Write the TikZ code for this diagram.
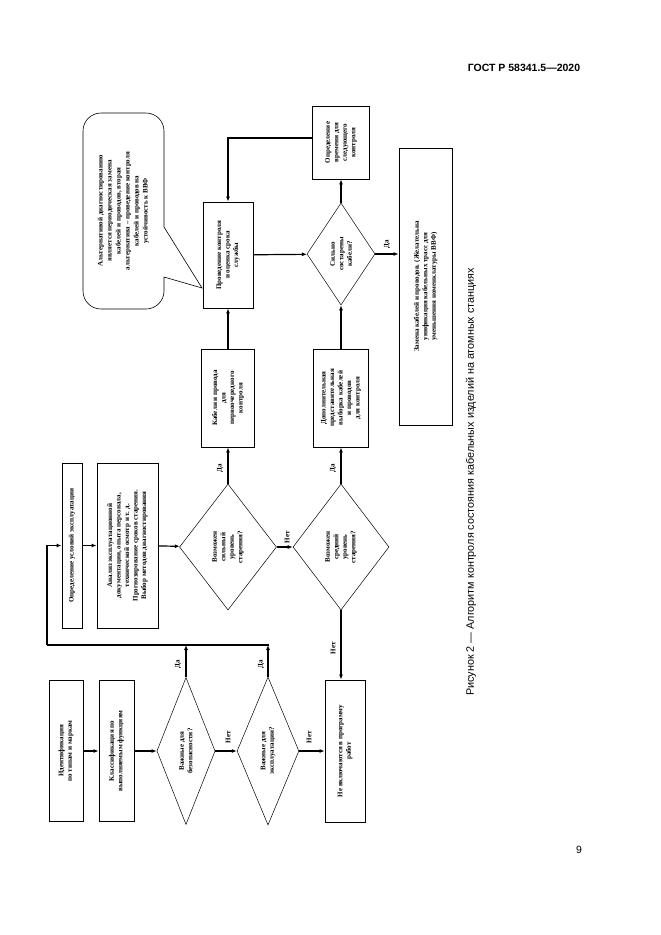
\documentclass[tikz,border=0pt]{standalone}
\usepackage{fontspec}
\setmainfont{Liberation Serif}
\newfontfamily\capfont{Liberation Sans}
\usetikzlibrary{shapes.geometric,arrows.meta}
\begin{document}
\begin{tikzpicture}[x=1pt,y=-1pt,
  box/.style={draw,line width=0.8pt,rotate=90,align=center,inner sep=1pt,font=\fontsize{7}{8.5}\selectfont\bfseries},
  dia/.style={draw,line width=0.5pt,diamond,rotate=90,align=center,inner sep=0pt,font=\fontsize{7}{8.5}\selectfont\bfseries},
  arr/.style={line width=1.2pt,-{Latex[length=5pt,width=4pt]}},
  ln/.style={line width=1.2pt},
  lab/.style={rotate=90,font=\fontsize{7}{8}\selectfont\bfseries}]
\useasboundingbox (0,0) rectangle (661,935);
\fill[white] (0,0) rectangle (661,935);
\node[font=\capfont\bfseries\fontsize{10.5}{12}\selectfont] (hdr) at (524,68) {ГОСТ Р 58341.5—2020};
\node[font=\capfont\fontsize{10.5}{12}\selectfont] (pg) at (579,850) {9};
\node[rotate=90,font=\capfont\fontsize{10.8}{12}\selectfont] (cap) at (471,482) {Рисунок 2 — Алгоритм контроля состояния кабельных изделий на атомных станциях};

\node[box,minimum width=141,minimum height=34] (ident) at (66,751) {Идентификация\\по типам и маркам};
\node[box,minimum width=141,minimum height=35] (classif) at (116.5,751) {Классификация по\\выполняемым функциям};
\node[dia,minimum width=147,minimum height=52] (d1) at (186,751) {Важные для\\безопасности?};
\node[dia,minimum width=148,minimum height=50] (d2) at (268,751) {Важные для\\эксплуатации?};
\node[box,minimum width=142,minimum height=40] (nevkl) at (345,751) {Не включаются в программу\\работ};

\node[box,minimum width=165,minimum height=20] (usl) at (72,545.5) {Определение условий эксплуатации};
\node[box,minimum width=165,minimum height=61] (anal) at (127.5,545.5) {Анализ эксплуатационной\\документации, опыта персонала,\\технической осмотр и т. д.\\Прогнозирование сроков старения.\\Выбор методов диагностирования};
\node[dia,minimum width=126,minimum height=97] (d3) at (228,547) {Возможен\\сильный\\уровень\\старения?};
\node[dia,minimum width=126,minimum height=96] (d4) at (341,547) {Возможен\\средний\\уровень\\старения?};
\node[box,minimum width=98,minimum height=53] (kab) at (228,398) {Кабели и провода\\для\\первоочередного\\контроля};
\node[box,minimum width=98,minimum height=55] (dop) at (341,398) {Дополнительная\\представительная\\выборка кабелей\\и проводов\\для контроля};
\node[box,minimum width=106,minimum height=50] (prov) at (228,255) {Проведение контроля\\и оценка срока\\службы};
\node[dia,minimum width=102,minimum height=68] (d5) at (341,254) {Сильно\\состарены\\кабели?};
\node[box,minimum width=73,minimum height=57] (vrem) at (341,142.5) {Определение\\времени для\\следующего\\контроля};
\node[box,minimum width=277,minimum height=53] (zam) at (425.5,286.5) {Замена кабелей и проводов. (Желательна\\унификация кабельных трасс для\\уменьшения номенклатуры ВВФ)};

\draw[line width=0.6pt,rounded corners=18] (164,227) -- (164,113) -- (83,113) -- (83,309) -- (164,309) [sharp corners] -- (164,277) -- (202,288) -- cycle;
\node[rotate=90,align=center,font=\fontsize{7}{9}\selectfont\bfseries] (ct) at (123.5,211) {Альтернативой диагностированию\\является периодическая замена\\кабелей и проводов, вторая\\альтернатива – проведение контроля\\кабелей и проводов на\\устойчивость к ВВФ};

\coordinate (lr) at (269,645);
\coordinate (ll) at (47,645);
\draw[arr] (ident) -- (classif);
\draw[arr] (classif) -- (d1);
\draw[arr] (d1) -- (d2);
\draw[arr] (d2) -- (nevkl);
\draw[arr] (d1.east) -- (d1.east |- lr);
\draw[arr] (d2.east) -- (d2.east |- lr);
\draw[ln] (lr) -- (ll);
\draw[arr] (ll) |- (usl);
\draw[arr] (usl) -- (anal);
\draw[arr] (anal) -- (d3);
\draw[arr] (d3) -- (d4);
\draw[arr] (d3.east) -- (kab);
\draw[arr] (d4.east) -- (dop);
\draw[arr] (d4.west) -- (d4.west |- nevkl.east);
\draw[arr] (kab) -- (prov);
\draw[arr] (dop) -- (d5);
\draw[arr] (prov) -- (d5);
\draw[arr] (d5.east) -- (vrem);
\draw[arr] (d5.south) -- (d5.south -| zam.north);
\draw[arr] (vrem.north |- 0,138) -| (prov.east);

\node[lab] (l1) at (228,737) {Нет};
\node[lab] (l2) at (309,737) {Нет};
\node[lab] (l3) at (178,664) {Да};
\node[lab] (l4) at (261,664) {Да};
\node[lab] (l5) at (287,537) {Нет};
\node[lab] (l6) at (220,468) {Да};
\node[lab] (l7) at (333,468) {Да};
\node[lab] (l8) at (333,648) {Нет};
\node[lab] (l9) at (387,244) {Да};
\end{tikzpicture}
\end{document}
